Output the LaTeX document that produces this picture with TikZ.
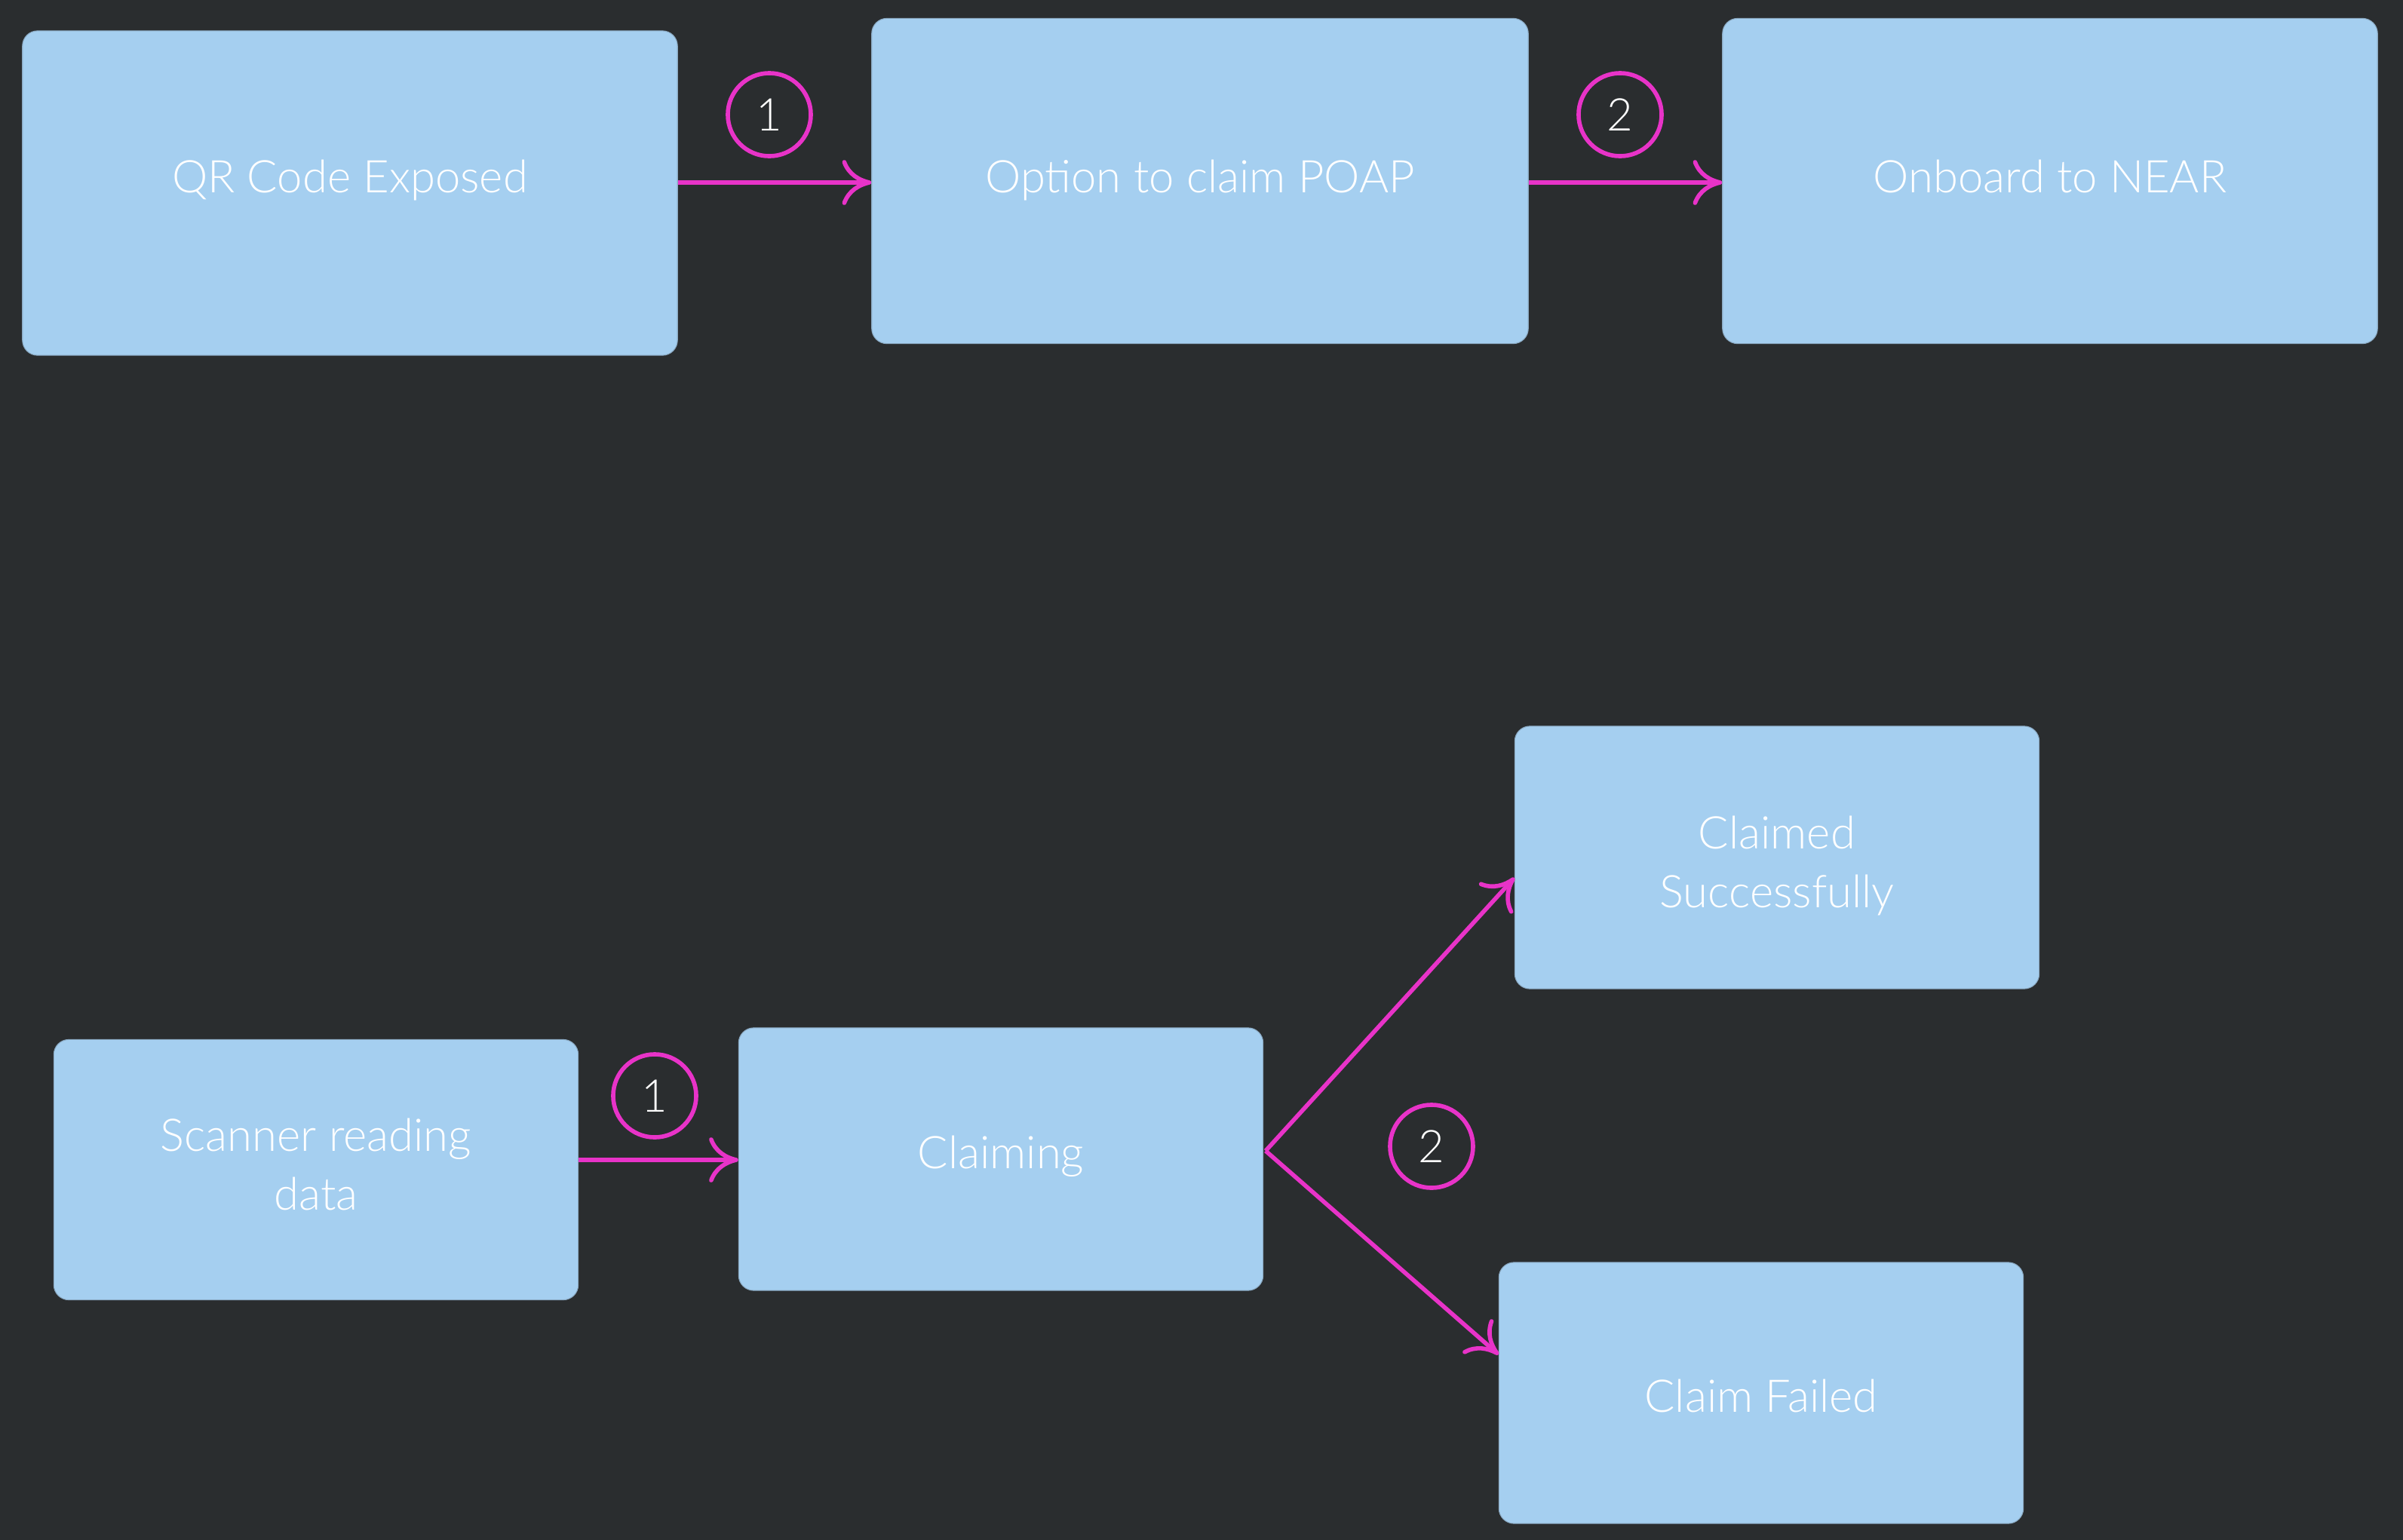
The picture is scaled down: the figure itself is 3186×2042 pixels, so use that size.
\documentclass[tikz,border=0pt]{standalone}
\usepackage{fontspec}
\setmainfont{Lato}[UprightFont=* Light]
\usetikzlibrary{arrows.meta}
\definecolor{bg}{HTML}{2A2D2F}
\definecolor{boxc}{HTML}{A5CFF0}
\definecolor{boxline}{HTML}{8AA9C2}
\definecolor{mag}{HTML}{E833C8}
\tikzset{
  flowbox/.style={rectangle, rounded corners=0.2cm, fill=boxc, draw=boxline, line width=0.3pt,
    text=white, align=center, inner sep=0pt, font=\fontsize{17}{22}\selectfont, text height=12.2pt},
  arr/.style={draw=mag, line width=1.6pt, -{Computer Modern Rightarrow[length=11pt,width=17pt,line width=1.6pt]}},
  numc/.style={circle, draw=mag, line width=1.6pt, minimum size=1.1cm, inner sep=0pt, text=white,
    font=\fontsize{17}{20}\selectfont}
}
\begin{document}
\begin{tikzpicture}[x=0.01cm,y=-0.01cm]
\fill[bg] (0,0) rectangle (3186,2042);
\useasboundingbox (0,0) rectangle (3186,2042);
% top row
\node[flowbox, text depth=0.44cm, minimum width=8.68cm, minimum height=4.30cm] (qr) at (464,256) {QR Code Exposed};
\node[flowbox, text depth=0.12cm, minimum width=8.70cm, minimum height=4.31cm] (opt) at (1591,240) {Option to claim POAP};
\node[flowbox, text depth=0.12cm, minimum width=8.68cm, minimum height=4.31cm] (near) at (2718,240) {Onboard to NEAR};
\draw[arr] (qr.east |- 0,242) -- (opt.west |- 0,242);
\draw[arr] (opt.east |- 0,242) -- (near.west |- 0,242);
\node[numc] (c1) at (1020,152) {1};
\node[numc] (c2) at (2148,152) {2};
% bottom row
\node[flowbox, text height=30.2pt, text depth=0pt, minimum width=6.95cm, minimum height=3.45cm] (scan) at (419,1551) {Scanner reading\\data};
\node[flowbox, text depth=0.18cm, minimum width=6.95cm, minimum height=3.48cm] (claiming) at (1327,1537) {Claiming};
\node[flowbox, text height=37.6pt, text depth=0pt, minimum width=6.95cm, minimum height=3.48cm] (ok) at (2356,1137) {Claimed\\Successfully};
\node[flowbox, text height=14.5pt, text depth=0pt, minimum width=6.95cm, minimum height=3.46cm] (fail) at (2335,1847) {Claim Failed};
\coordinate (br) at (1678,1526);
\draw[arr] (scan.east |- 0,1538) -- (claiming.west |- 0,1538);
\draw[arr] (br) -- (ok.west |- 0,1164);
\draw[arr] (br) -- (fail.west |- 0,1796);
\node[numc] (c3) at (868,1453) {1};
\node[numc] (c4) at (1898,1520) {2};
\end{tikzpicture}
\end{document}
